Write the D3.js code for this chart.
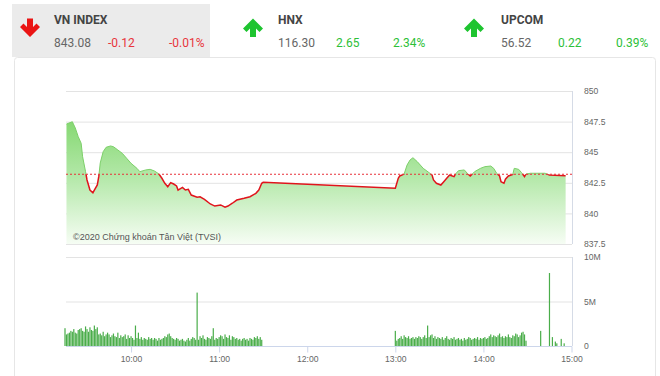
<!DOCTYPE html>
<html>
<head>
<meta charset="utf-8">
<script src="https://cdn.jsdelivr.net/npm/d3@7"></script>
<style>
  body { margin: 0; background: #fff; }
  svg { display: block; font-family: "Liberation Sans", Arial, sans-serif; }
  .hdr { font-family: Roboto, sans-serif; }
</style>
</head>
<body>
<div id="chart"></div>
<script>
var width = 660, height = 376

// Header quotes
var indexNames = ['VN INDEX', 'HNX', 'UPCOM']
var indexValues = ['843.08', '116.30', '56.52']
var indexChanges = ['-0.12', '2.65', '0.22']
var indexPercents = ['-0.01%', '2.34%', '0.39%']

var refPrice = 843.20

// Intraday VN-Index (time, value)
var priceTimes = ['09:16', '09:20', '09:22', '09:24', '09:26', '09:27', '09:29', '09:30', '09:32', '09:34',
  '09:35', '09:37', '09:38', '09:39', '09:41', '09:43', '09:46', '09:48', '09:51', '09:54',
  '09:57', '10:00', '10:04', '10:06', '10:10', '10:13', '10:16', '10:19', '10:21', '10:23',
  '10:25', '10:27', '10:29', '10:31', '10:32', '10:35', '10:37', '10:39', '10:41', '10:45',
  '10:47', '10:50', '10:54', '10:57', '11:01', '11:04', '11:06', '11:09', '11:12', '11:17',
  '11:21', '11:25', '11:27', '11:29', '11:30', '13:00', '13:02', '13:03', '13:06', '13:08',
  '13:10', '13:12', '13:15', '13:17', '13:19', '13:23', '13:25', '13:26', '13:28', '13:31',
  '13:33', '13:35', '13:37', '13:40', '13:41', '13:43', '13:47', '13:49', '13:51', '13:53',
  '13:54', '13:58', '14:01', '14:05', '14:07', '14:09', '14:11', '14:12', '14:14', '14:15',
  '14:17', '14:20', '14:21', '14:24', '14:26', '14:28', '14:29', '14:32', '14:42', '14:45',
  '14:56']
var priceValues = [847.30, 847.49, 846.98, 846.27, 845.73, 844.63, 843.41, 842.73, 841.91, 841.69,
  841.91, 842.32, 843.00, 844.12, 845.04, 845.40, 845.51, 845.45, 845.18, 844.91,
  844.50, 844.09, 843.68, 843.41, 843.55, 843.60, 843.46, 843.22, 842.87, 842.46,
  842.18, 842.51, 842.40, 842.24, 841.91, 842.13, 841.91, 841.97, 841.50, 841.32,
  841.36, 841.15, 840.77, 840.60, 840.69, 840.50, 840.60, 840.83, 841.09, 841.23,
  841.36, 841.64, 841.91, 842.46, 842.54, 842.05, 842.87, 843.06, 843.22, 843.95,
  844.36, 844.55, 844.22, 843.95, 843.68, 843.33, 843.14, 842.73, 842.46, 842.32,
  842.59, 842.87, 843.14, 843.00, 843.22, 843.49, 843.55, 843.28, 843.06, 843.28,
  843.41, 843.68, 843.82, 843.87, 843.68, 843.28, 843.06, 842.59, 842.46, 842.79,
  843.06, 843.19, 843.68, 843.60, 843.33, 843.00, 843.22, 843.28, 843.28, 843.14,
  843.08]

// Volume per minute, millions. Morning starts 09:15, afternoon starts 13:00
var volMorning = [2.0, 1.3, 1.4, 1.5, 1.7, 1.6, 1.9, 1.5, 1.4, 1.8, 1.9, 2.0, 1.7, 1.6, 2.2,
  1.9, 1.6, 2.1, 1.8, 1.7, 2.3, 1.9, 2.1, 1.3, 1.4, 1.2, 1.6, 1.1, 1.3, 1.5,
  1.3, 1.0, 1.2, 1.4, 1.1, 1.0, 1.5, 0.9, 1.2, 1.0, 1.1, 1.3, 0.8, 1.2, 0.9,
  1.1, 0.9, 0.7, 2.3, 0.9, 1.5, 0.8, 1.0, 0.7, 0.9, 0.8, 0.7, 1.0, 0.8, 0.9,
  0.7, 0.9, 0.8, 0.6, 0.9, 0.7, 0.8, 0.9, 1.1, 1.0, 1.3, 1.4, 1.1, 0.9, 0.8,
  0.7, 0.9, 0.8, 0.6, 0.7, 0.8, 0.6, 0.5, 0.7, 0.9, 0.6, 0.8, 1.0, 0.9, 0.7,
  6.0, 0.7, 1.1, 0.9, 1.2, 0.8, 0.7, 1.0, 0.9, 0.8, 1.1, 2.0, 0.7, 0.9, 0.8,
  1.0, 1.2, 1.1, 0.8, 1.3, 1.0, 0.9, 1.2, 0.7, 1.1, 1.0, 0.8, 0.9, 0.7, 0.8,
  0.6, 0.8, 0.9, 0.7, 0.8, 0.6, 0.9, 0.8, 0.7, 1.0, 0.9, 1.1, 0.8, 1.0, 0.7]
var volAfternoon = [1.7, 0.6, 0.8, 0.9, 1.1, 0.8, 1.2, 1.0, 0.9, 1.1, 0.8, 0.9, 1.0, 0.8, 1.0,
  0.9, 1.1, 1.0, 0.8, 1.0, 1.2, 0.9, 2.3, 1.0, 1.2, 1.3, 0.9, 1.1, 0.8, 1.0,
  0.9, 0.8, 1.0, 0.7, 0.9, 1.1, 0.8, 0.7, 0.9, 0.8, 1.0, 0.7, 0.8, 0.9, 0.7,
  0.8, 0.6, 0.9, 0.7, 0.8, 1.0, 0.9, 0.7, 0.8, 0.9, 0.8, 1.0, 0.7, 0.9, 0.8,
  0.9, 1.0, 0.8, 0.9, 1.1, 1.3, 1.0, 1.2, 1.1, 1.0, 1.2, 1.4, 1.0, 1.1, 0.9,
  1.1, 1.0, 1.3, 1.0, 0.9, 1.2, 1.1, 1.4, 1.3, 1.0, 1.2, 1.5, 1.6, 1.3, 0.6]
var volLateTimes = ['14:39', '14:45', '14:47', '14:49', '14:50', '14:53', '14:55']
var volLateValues = [1.7, 8.2, 1.0, 0.5, 0.3, 0.8, 0.3]

var priceTicks = [837.5, 840, 842.5, 845, 847.5, 850]
var volTicks = [0, 5, 10]
var timeTicks = ['10:00', '11:00', '12:00', '13:00', '14:00', '15:00']

var parseT = d3.timeParse('%H:%M')
var addMin = (t, m) => new Date(parseT(t).getTime() + m * 60000)

var priceData = priceTimes.map((t, i) => ({ t: parseT(t), v: priceValues[i] }))
var volData = volMorning.map((v, i) => ({ t: addMin('09:15', i), v: v }))
  .concat(volAfternoon.map((v, i) => ({ t: addMin('13:00', i), v: v })))
  .concat(volLateTimes.map((t, i) => ({ t: parseT(t), v: volLateValues[i] })))

var svg = d3.select('#chart')
  .append('svg')
  .attr('width', width)
  .attr('height', height)

// Panel
svg.append('rect')
  .attr('x', 14.5).attr('y', 57.5)
  .attr('width', 641).attr('height', 330)
  .attr('rx', 3)
  .attr('fill', '#fff')
  .attr('stroke', '#e6e6e6')

// Header
svg.append('rect')
  .attr('x', 12).attr('y', 4)
  .attr('width', 198).attr('height', 53)
  .attr('fill', '#ebebeb')

var hdrX = [54, 278, 501]
var arrowX = [30, 253, 474]
var chgX = [[108, 169], [336, 393], [558, 616]]

function arrowPath(cx, top, down) {
  var pts = [[-3, 0], [3, 0], [3, 8.5], [6.5, 5], [10, 8.5], [0, 18.5], [-10, 8.5], [-6.5, 5], [-3, 8.5]]
  return 'M' + pts.map(p => [cx + p[0], down ? top + p[1] : top + 18.5 - p[1]]).join('L') + 'Z'
}

indexNames.forEach((name, i) => {
  var down = indexChanges[i][0] === '-'
  var col = down ? '#e8343b' : '#2cbf38'
  svg.append('path')
    .attr('d', arrowPath(arrowX[i], 18.5, down))
    .attr('fill', down ? '#ea1414' : '#1ec430')

  svg.append('text').attr('class', 'hdr')
    .attr('x', hdrX[i]).attr('y', 24)
    .style('font-size', '12px').style('font-weight', 'bold')
    .style('fill', '#444')
    .text(name)

  svg.append('text').attr('class', 'hdr')
    .attr('x', hdrX[i]).attr('y', 47)
    .style('font-size', '12px').style('fill', '#666')
    .text(indexValues[i])

  svg.append('text').attr('class', 'hdr')
    .attr('x', chgX[i][0]).attr('y', 47)
    .style('font-size', '12px').style('fill', col)
    .text(indexChanges[i])

  svg.append('text').attr('class', 'hdr')
    .attr('x', chgX[i][1]).attr('y', 47)
    .style('font-size', '12px').style('fill', col)
    .text(indexPercents[i])
})

// Scales
var xScale = d3.scaleTime()
  .domain([parseT('09:15'), parseT('15:00')])
  .range([65, 571.5])

var yScale = d3.scaleLinear()
  .domain([837.5, 850])
  .range([244, 91])

var vScale = d3.scaleLinear()
  .domain([0, 10])
  .range([346, 257])

var plotL = 66, plotR = 572

// Price grid
svg.append('g')
  .attr('transform', `translate(${plotL},0)`)
  .call(d3.axisRight(yScale).tickValues(priceTicks).tickSize(plotR - plotL).tickFormat(''))
  .call(g => g.select('.domain').remove())
  .selectAll('line').style('stroke', '#e3e3e3')

// Price labels
svg.append('g')
  .attr('transform', `translate(584,0)`)
  .call(d3.axisRight(yScale).tickValues(priceTicks).tickSize(0).tickPadding(0).tickFormat(d => d))
  .call(g => g.select('.domain').remove())
  .selectAll('text')
  .style('font-size', '8.6px').style('fill', '#666')
  .style('font-family', '"Liberation Sans", Arial, sans-serif')

// Gradient fill
var defs = svg.append('defs')
var grad = defs.append('linearGradient')
  .attr('id', 'areaGrad')
  .attr('gradientUnits', 'userSpaceOnUse')
  .attr('x1', 0).attr('x2', 0)
  .attr('y1', yScale(847.5)).attr('y2', yScale(837.5))
grad.append('stop').attr('offset', 0).attr('stop-color', '#86d873')
grad.append('stop').attr('offset', 0.45).attr('stop-color', '#b3e8a8')
grad.append('stop').attr('offset', 1).attr('stop-color', '#f6fdf4')

var refY = yScale(refPrice)
defs.append('clipPath').attr('id', 'clipUp')
  .append('rect').attr('x', 0).attr('y', 0).attr('width', width).attr('height', refY)
defs.append('clipPath').attr('id', 'clipDown')
  .append('rect').attr('x', 0).attr('y', refY).attr('width', width).attr('height', height - refY)

var area = d3.area()
  .x(d => xScale(d.t))
  .y0(yScale(837.5))
  .y1(d => yScale(d.v))

var line = d3.line()
  .x(d => xScale(d.t))
  .y(d => yScale(d.v))

svg.append('path')
  .datum(priceData)
  .attr('d', area)
  .attr('fill', 'url(#areaGrad)')

svg.append('path')
  .datum(priceData)
  .attr('d', line)
  .attr('clip-path', 'url(#clipUp)')
  .attr('fill', 'none')
  .attr('stroke', '#7ccf69')
  .attr('stroke-width', 1)

svg.append('path')
  .datum(priceData)
  .attr('d', line)
  .attr('clip-path', 'url(#clipDown)')
  .attr('fill', 'none')
  .attr('stroke', '#e0141c')
  .attr('stroke-width', 1.5)

// Reference line
svg.append('line')
  .attr('x1', plotL).attr('x2', plotR)
  .attr('y1', refY).attr('y2', refY)
  .attr('stroke', '#e8303a')
  .attr('stroke-width', 1.2)
  .attr('stroke-dasharray', '2,2')

// Price plot right border
svg.append('line')
  .attr('x1', plotR + 0.5).attr('x2', plotR + 0.5)
  .attr('y1', yScale(850)).attr('y2', yScale(837.5))
  .attr('stroke', '#d5dbe6')

svg.append('text')
  .attr('x', 73).attr('y', 240)
  .style('font-size', '9px').style('fill', '#555')
  .text('©2020 Chứng khoán Tân Việt (TVSI)')

// Volume grid
svg.append('g')
  .attr('transform', `translate(${plotL},0)`)
  .call(d3.axisRight(vScale).tickValues([5, 10]).tickSize(plotR - plotL).tickFormat(''))
  .call(g => g.select('.domain').remove())
  .selectAll('line').style('stroke', '#e3e3e3')

svg.append('g')
  .attr('transform', `translate(584,0)`)
  .call(d3.axisRight(vScale).tickValues(volTicks).tickSize(0).tickPadding(0)
    .tickFormat(d => d ? d + 'M' : '0'))
  .call(g => g.select('.domain').remove())
  .selectAll('text')
  .style('font-size', '8.6px').style('fill', '#666')
  .style('font-family', '"Liberation Sans", Arial, sans-serif')

svg.append('line')
  .attr('x1', plotR + 0.5).attr('x2', plotR + 0.5)
  .attr('y1', vScale(10)).attr('y2', vScale(0))
  .attr('stroke', '#d5dbe6')

// Volume bars
svg.append('g')
  .selectAll('rect')
  .data(volData)
  .enter()
  .append('rect')
  .attr('x', d => xScale(d.t) - 0.6)
  .attr('width', 1.2)
  .attr('y', d => vScale(d.v))
  .attr('height', d => vScale(0) - vScale(d.v))
  .attr('fill', '#4aad4a')

// Time axis
var xAxis = d3.axisBottom(xScale)
  .tickValues(timeTicks.map(parseT))
  .tickSize(6)
  .tickPadding(3)
  .tickFormat(d3.timeFormat('%H:%M'))

svg.append('g')
  .attr('transform', `translate(0,${vScale(0) + 0.5})`)
  .call(xAxis)
  .call(g => g.select('.domain').attr('d', `M${plotL},0H${plotR}`).style('stroke', '#ccd6eb'))
  .call(g => g.selectAll('.tick line').style('stroke', '#ccd6eb'))
  .selectAll('text')
  .style('font-size', '8.6px').style('fill', '#666')
  .style('font-family', '"Liberation Sans", Arial, sans-serif')
</script>
</body>
</html>
